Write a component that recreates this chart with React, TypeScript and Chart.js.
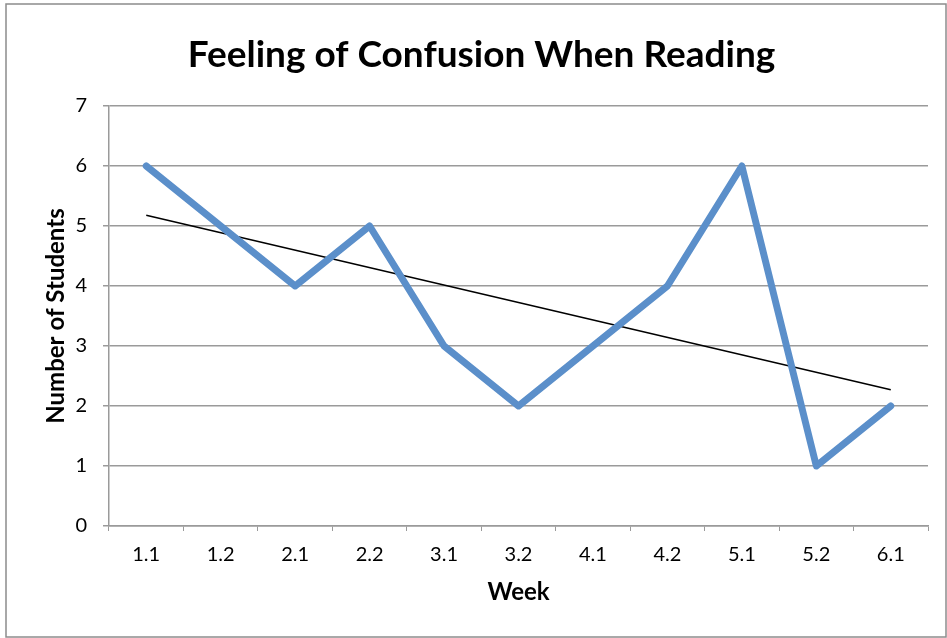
import React, { useEffect, useRef } from "react";
import { Chart, registerables } from "chart.js";

Chart.register(...registerables);

const weeks = ["1.1", "1.2", "2.1", "2.2", "3.1", "3.2", "4.1", "4.2", "5.1", "5.2", "6.1"];
const students = [6, 5, 4, 5, 3, 2, 3, 4, 6, 1, 2];
const trendEnds = [5.18, 2.27];
const yTicks = [0, 1, 2, 3, 4, 5, 6, 7];

const FONT = "Lato";
const GRID = "#9a9a9a";

const frame = {
  id: "frame",
  afterDraw(chart: any) {
    const ctx = chart.ctx;
    ctx.save();
    ctx.strokeStyle = "#8c8c8c";
    ctx.lineWidth = 1.5;
    ctx.strokeRect(6, 4, 940, 633);
    ctx.restore();
  },
};

export default function App() {
  const ref = useRef<HTMLCanvasElement>(null);
  useEffect(() => {
    if (!ref.current) return;
    const trendData = weeks.map((_, i) =>
      i === 0 ? trendEnds[0] : i === weeks.length - 1 ? trendEnds[1] : null
    );
    const chart = new Chart(ref.current, {
      type: "line",
      data: {
        labels: weeks,
        datasets: [
          {
            data: students,
            borderColor: "#5b8fca",
            borderWidth: 7,
            borderCapStyle: "round",
            borderJoinStyle: "round",
            pointRadius: 0,
            tension: 0,
          },
          {
            data: trendData,
            borderColor: "#000000",
            borderWidth: 1.5,
            pointRadius: 0,
            spanGaps: true,
            tension: 0,
          },
        ],
      },
      options: {
        responsive: false,
        animation: false,
        layout: { padding: { left: 35, right: 19, top: 0, bottom: 0 } },
        plugins: {
          legend: { display: false },
          tooltip: { enabled: false },
          title: {
            display: true,
            text: "Feeling of Confusion When Reading",
            color: "#000",
            font: { family: FONT, size: 37, weight: "bold", lineHeight: 1.2 },
            padding: { top: 32.8, bottom: 28.8 },
          },
        },
        scales: {
          x: {
            type: "category",
            offset: true,
            grid: {
              offset: true,
              drawOnChartArea: false,
              drawTicks: true,
              tickLength: 5,
              color: GRID,
            },
            border: { display: true, color: GRID, width: 1.5 },
            ticks: {
              color: "#000",
              padding: 12,
              maxRotation: 0,
              autoSkip: false,
              font: { family: FONT, size: 20, lineHeight: 1.2 },
            },
            title: {
              display: true,
              text: "Week",
              color: "#000",
              font: { family: FONT, size: 24, weight: "bold", lineHeight: 1.2 },
              padding: { top: 0, bottom: 31 },
            },
            afterFit(scale: any) {
              scale.height = 112;
            },
          },
          y: {
            min: 0,
            max: 7,
            afterBuildTicks(scale: any) {
              scale.ticks = yTicks.map((v) => ({ value: v }));
            },
            grid: {
              color: GRID,
              lineWidth: 1.5,
              drawTicks: true,
              tickLength: 6,
            },
            border: { display: true, color: GRID, width: 1.5 },
            ticks: {
              color: "#000",
              padding: 16,
              font: { family: FONT, size: 20, lineHeight: 1.2 },
            },
            title: {
              display: true,
              text: "Number of Students",
              color: "#000",
              font: { family: FONT, size: 24, weight: "bold", lineHeight: 1.2 },
              padding: { top: 7, bottom: 0 },
            },
            afterFit(scale: any) {
              scale.width = 74;
            },
          },
        },
      },
      plugins: [frame],
    });
    return () => chart.destroy();
  }, []);
  return (
    <div style={{ position: "fixed", left: 0, top: 0, width: 947, height: 638, background: "#fff" }}>
      <canvas ref={ref} width={947} height={638} style={{ width: 947, height: 638, display: "block" }} />
    </div>
  );
}
